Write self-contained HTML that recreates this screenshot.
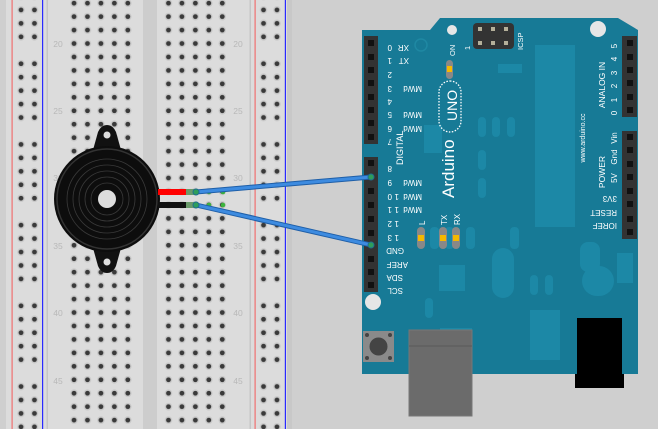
<!DOCTYPE html>
<html><head><meta charset="utf-8"><style>
html,body{margin:0;padding:0;background:#cfcfcf;}
svg{display:block;font-family:"Liberation Sans",sans-serif;}
</style></head><body>
<svg width="658" height="429" viewBox="0 0 658 429" xmlns="http://www.w3.org/2000/svg">
<defs>
<pattern id="th" patternUnits="userSpaceOnUse" x="67.3" y="-3.55" width="13.45" height="13.45">
<circle cx="6.725" cy="6.725" r="3.8" fill="#c9c9c9"/><circle cx="6.725" cy="6.725" r="2.4" fill="#3a3a3a"/>
</pattern>
<pattern id="rh" patternUnits="userSpaceOnUse" x="14.3" y="-23.7" width="13.45" height="80.7">
<g fill="#c9c9c9"><circle cx="6.725" cy="6.725" r="3.8"/><circle cx="6.725" cy="20.175" r="3.8"/><circle cx="6.725" cy="33.625" r="3.8"/><circle cx="6.725" cy="47.075" r="3.8"/><circle cx="6.725" cy="60.525" r="3.8"/></g>
<g fill="#3a3a3a"><circle cx="6.725" cy="6.725" r="2.4"/><circle cx="6.725" cy="20.175" r="2.4"/><circle cx="6.725" cy="33.625" r="2.4"/><circle cx="6.725" cy="47.075" r="2.4"/><circle cx="6.725" cy="60.525" r="2.4"/></g>
</pattern>
</defs>
<rect width="658" height="429" fill="#cfcfcf"/>
<!-- breadboard -->
<rect x="6" y="0" width="286" height="429" fill="#dcdcdc"/>
<rect x="143" y="0" width="14" height="429" fill="#cdcdcd"/>
<rect x="46.5" y="0" width="1.5" height="429" fill="#c6c6c6"/>
<rect x="249.5" y="0" width="1.5" height="429" fill="#c6c6c6"/>
<rect x="287" y="0" width="5" height="429" fill="#c8c8c8"/>
<rect x="11.5" y="0" width="1.2" height="429" fill="#f07070"/>
<rect x="42" y="0" width="1.2" height="429" fill="#2a2aff"/>
<rect x="254.5" y="0" width="1.2" height="429" fill="#f07070"/>
<rect x="284.8" y="0" width="1.2" height="429" fill="#2a2aff"/>
<rect x="67" y="0" width="68" height="429" fill="url(#th)"/>
<rect x="161.5" y="0" width="68" height="429" fill="url(#th)" transform="translate(0.3,0)"/>
<rect x="14" y="0" width="27" height="429" fill="url(#rh)"/>
<rect x="14" y="0" width="27" height="429" fill="url(#rh)" transform="translate(242.5,0)"/>
<g font-size="8.5" fill="#b8b8b8" text-anchor="middle">
<text x="58" y="47">20</text><text x="58" y="114">25</text><text x="58" y="181">30</text><text x="58" y="249">35</text><text x="58" y="316">40</text><text x="58" y="384">45</text>
<text x="238" y="47">20</text><text x="238" y="114">25</text><text x="238" y="181">30</text><text x="238" y="249">35</text><text x="238" y="316">40</text><text x="238" y="384">45</text>
</g>
<g fill="#3db33d"><circle cx="209" cy="192" r="2.3"/><circle cx="223" cy="192" r="2.3"/><circle cx="209" cy="205" r="2.3"/><circle cx="223" cy="205" r="2.3"/></g>
<!-- arduino -->
<path d="M362 30 L430 30 L440 18 L618 18 L638 30 L638 374 L362 374 Z" fill="#177a96"/>
<circle cx="452" cy="30" r="5" fill="#e6e6e6"/>
<circle cx="598" cy="29" r="8" fill="#e6e6e6"/>
<circle cx="373" cy="302" r="8" fill="#e6e6e6"/>
<circle cx="421" cy="45" r="6" fill="none" stroke="#1f88a3" stroke-width="1.5"/>
<rect x="535" y="45" width="40" height="182" fill="#1c88a6"/>
<rect x="498" y="64" width="24" height="9" fill="#1c88a6"/>
<rect x="424" y="125" width="18" height="28" fill="#1c88a6"/>
<g fill="#1c88a6"><rect x="478" y="117" width="8" height="20" rx="4"/><rect x="492" y="117" width="8" height="20" rx="4"/><rect x="507" y="117" width="8" height="20" rx="4"/><rect x="478" y="150" width="8" height="20" rx="4"/><rect x="478" y="178" width="8" height="20" rx="4"/>
<rect x="492" y="248" width="22" height="50" rx="11"/><rect x="439" y="265" width="26" height="26"/><rect x="440" y="328" width="32" height="40"/><rect x="530" y="310" width="30" height="50"/><rect x="617" y="253" width="16" height="30"/><rect x="580" y="242" width="20" height="30" rx="8"/><rect x="582" y="266" width="32" height="30" rx="15"/>
<rect x="430" y="227" width="9" height="22" rx="4"/><rect x="445" y="227" width="9" height="22" rx="4"/><rect x="466" y="227" width="9" height="22" rx="4"/><rect x="510" y="227" width="9" height="22" rx="4"/><rect x="530" y="275" width="8" height="20" rx="4"/><rect x="545" y="275" width="8" height="20" rx="4"/><rect x="425" y="298" width="8" height="20" rx="4"/></g>
<!-- ICSP -->
<rect x="473" y="23" width="41" height="26" rx="4" fill="#333"/>
<g fill="#b5b09a"><rect x="478" y="27" width="4" height="4"/><rect x="491" y="27" width="4" height="4"/><rect x="504" y="27" width="4" height="4"/><rect x="478" y="41" width="4" height="4"/><rect x="491" y="41" width="4" height="4"/><rect x="504" y="41" width="4" height="4"/></g>
<!-- headers -->
<rect x="364" y="36" width="14" height="108" fill="#333"/>
<rect x="364" y="157" width="14" height="135" fill="#333"/>
<rect x="622" y="36" width="15" height="81" fill="#333"/>
<rect x="622" y="131" width="15" height="108" fill="#333"/>
<g fill="#111">
<rect x="368" y="40" width="6" height="6"/><rect x="368" y="54" width="6" height="6"/><rect x="368" y="67" width="6" height="6"/><rect x="368" y="80" width="6" height="6"/><rect x="368" y="94" width="6" height="6"/><rect x="368" y="107" width="6" height="6"/><rect x="368" y="120" width="6" height="6"/><rect x="368" y="134" width="6" height="6"/>
<rect x="368" y="160" width="6" height="6"/><rect x="368" y="188" width="6" height="6"/><rect x="368" y="202" width="6" height="6"/><rect x="368" y="216" width="6" height="6"/><rect x="368" y="230" width="6" height="6"/><rect x="368" y="256" width="6" height="6"/><rect x="368" y="269" width="6" height="6"/><rect x="368" y="282" width="6" height="6"/>
<rect x="627" y="40" width="6" height="6"/><rect x="627" y="54" width="6" height="6"/><rect x="627" y="67" width="6" height="6"/><rect x="627" y="80" width="6" height="6"/><rect x="627" y="94" width="6" height="6"/><rect x="627" y="107" width="6" height="6"/>
<rect x="627" y="134" width="6" height="6"/><rect x="627" y="147" width="6" height="6"/><rect x="627" y="161" width="6" height="6"/><rect x="627" y="174" width="6" height="6"/><rect x="627" y="188" width="6" height="6"/><rect x="627" y="201" width="6" height="6"/><rect x="627" y="216" width="6" height="6"/><rect x="627" y="229" width="6" height="6"/>
</g>
<!-- LEDs -->
<rect x="446" y="60" width="7" height="19" rx="3.5" fill="#888"/><rect x="447" y="66" width="5" height="6" fill="#f5b800"/>
<g fill="#888"><rect x="417" y="227" width="8" height="22" rx="4"/><rect x="439" y="227" width="8" height="22" rx="4"/><rect x="452" y="227" width="8" height="22" rx="4"/></g>
<g fill="#f5b800"><rect x="418" y="235" width="6" height="6"/><rect x="440" y="235" width="6" height="6"/><rect x="453" y="235" width="6" height="6"/></g>
<!-- labels -->
<g fill="#fff" font-size="8">
<g transform="translate(387,45) rotate(180)"><text x="-5" y="0">0</text><text x="-22" y="0">XR</text></g>
<g transform="translate(387,58) rotate(180)"><text x="-5" y="0">1</text><text x="-22" y="0">XT</text></g>
<g transform="translate(387,72) rotate(180)"><text x="-5" y="0">2</text></g>
<g transform="translate(387,86) rotate(180)"><text x="-5" y="0">3</text><text x="-35" y="0">MWd</text></g>
<g transform="translate(387,99) rotate(180)"><text x="-5" y="0">4</text></g>
<g transform="translate(387,112) rotate(180)"><text x="-5" y="0">5</text><text x="-35" y="0">MWd</text></g>
<g transform="translate(387,126) rotate(180)"><text x="-5" y="0">6</text><text x="-35" y="0">MWd</text></g>
<g transform="translate(387,139) rotate(180)"><text x="-5" y="0">7</text></g>
<g transform="translate(387,166) rotate(180)"><text x="-5" y="0">8</text></g>
<g transform="translate(387,180) rotate(180)"><text x="-5" y="0">9</text><text x="-35" y="0">MWd</text></g>
<g transform="translate(387,194) rotate(180)"><text x="-5" y="0">0</text><text x="-12" y="0">1</text><text x="-35" y="0">MWd</text></g>
<g transform="translate(387,207) rotate(180)"><text x="-5" y="0">1</text><text x="-12" y="0">1</text><text x="-35" y="0">MWd</text></g>
<g transform="translate(387,221) rotate(180)"><text x="-5" y="0">2</text><text x="-12" y="0">1</text></g>
<g transform="translate(387,235) rotate(180)"><text x="-5" y="0">3</text><text x="-12" y="0">1</text></g>
<g transform="translate(404,248) rotate(180)"><text x="0" y="0">GND</text></g>
<g transform="translate(408,262) rotate(180)"><text x="0" y="0">AREF</text></g>
<g transform="translate(403,275) rotate(180)"><text x="0" y="0">SDA</text></g>
<g transform="translate(403,288) rotate(180)"><text x="0" y="0">SCL</text></g>
<g transform="translate(617,223) rotate(180)"><text x="0" y="0">IOREF</text></g>
<g transform="translate(617,210) rotate(180)"><text x="0" y="0">RESET</text></g>
<g transform="translate(617,196) rotate(180)"><text x="0" y="0">3V3</text></g>
<text transform="translate(403,165) rotate(-90)" font-size="9">DIGITAL</text>
<g font-size="8" text-anchor="middle">
<text transform="translate(617,46) rotate(-90)">5</text>
<text transform="translate(617,59) rotate(-90)">4</text>
<text transform="translate(617,73) rotate(-90)">3</text>
<text transform="translate(617,86) rotate(-90)">2</text>
<text transform="translate(617,100) rotate(-90)">1</text>
<text transform="translate(617,113) rotate(-90)">0</text>
<text transform="translate(617,138) rotate(-90)">Vin</text>
<text transform="translate(617,157) rotate(-90)">Gnd</text>
<text transform="translate(617,178) rotate(-90)">5V</text>
<text transform="translate(605,85) rotate(-90)" font-size="8.5">ANALOG IN</text>
<text transform="translate(605,172) rotate(-90)" font-size="8.5">POWER</text>
<text transform="translate(585,138) rotate(-90)" font-size="7">www.arduino.cc</text>
</g>
<text transform="translate(455,56) rotate(-90)" font-size="7.5">ON</text>
<text transform="translate(523,50) rotate(-90)" font-size="7.5">ICSP</text>
<text transform="translate(470,50) rotate(-90)" font-size="7.5">1</text>
<text transform="translate(425,225) rotate(-90)" font-size="8">L</text>
<text transform="translate(447,225) rotate(-90)" font-size="8">TX</text>
<text transform="translate(460,225) rotate(-90)" font-size="8">RX</text>
<text transform="translate(454,198) rotate(-90)" font-size="17">Arduino</text>
<rect x="439" y="81" width="22" height="51" rx="11" fill="none" stroke="#fff" stroke-width="1.3" stroke-dasharray="1.5 1.5"/>
<text transform="translate(457,121) rotate(-90)" font-size="14">UNO</text>
</g>
<!-- reset button -->
<rect x="363" y="331" width="31" height="31" fill="#8a8a8a"/>
<circle cx="378.5" cy="346.5" r="9" fill="#444"/>
<g fill="#444"><circle cx="367" cy="335" r="2"/><circle cx="390" cy="335" r="2"/><circle cx="367" cy="358" r="2"/><circle cx="390" cy="358" r="2"/></g>
<!-- usb -->
<rect x="409" y="330" width="63" height="86" fill="#6b6b6b" stroke="#777" stroke-width="1"/>
<line x1="409" y1="346" x2="472" y2="346" stroke="#5a5a5a"/>
<!-- power jack -->
<rect x="577" y="318" width="45" height="56" fill="#000"/>
<rect x="575" y="374" width="49" height="14" fill="#000"/>
<!-- buzzer -->
<path d="M93 150 L98 132 Q101 125 107 125 Q113 125 116 132 L121 150 Z" fill="#111"/>
<circle cx="107" cy="135" r="3.5" fill="#ddd"/>
<path d="M93 248 L98 266 Q101 273 107 273 Q113 273 116 266 L121 248 Z" fill="#111"/>
<circle cx="107" cy="262" r="3.5" fill="#ddd"/>
<circle cx="107" cy="199" r="53" fill="#0d0d0d"/>
<circle cx="107" cy="199" r="50" fill="none" stroke="#333" stroke-width="1.5"/>
<g fill="none" stroke="#3a3a3a" stroke-width="0.8"><circle cx="107" cy="199" r="40"/><circle cx="107" cy="199" r="34"/><circle cx="107" cy="199" r="28"/><circle cx="107" cy="199" r="22"/><circle cx="107" cy="199" r="16"/></g>
<circle cx="107" cy="199" r="9" fill="#ddd"/>
<!-- leads -->
<rect x="158" y="189" width="30" height="6" fill="#f00"/>
<rect x="158" y="202" width="30" height="6" fill="#111"/>
<rect x="186" y="189" width="12" height="6" fill="#6a9a6a"/>
<rect x="186" y="202" width="12" height="6" fill="#6a9a6a"/>
<!-- wires -->
<g stroke-linecap="round">
<line x1="196" y1="192" x2="371" y2="177" stroke="#1f5fa8" stroke-width="5"/>
<line x1="196" y1="192" x2="371" y2="177" stroke="#3d8be0" stroke-width="3"/>
<line x1="196" y1="205" x2="371" y2="245" stroke="#1f5fa8" stroke-width="5"/>
<line x1="196" y1="205" x2="371" y2="245" stroke="#3d8be0" stroke-width="3"/>
</g>
<g fill="#2e9e5a" stroke="#1f6f8f" stroke-width="1"><circle cx="196" cy="192" r="3"/><circle cx="196" cy="205" r="3"/><circle cx="371" cy="177" r="3"/><circle cx="371" cy="245" r="3"/></g>
</svg>
</body></html>
